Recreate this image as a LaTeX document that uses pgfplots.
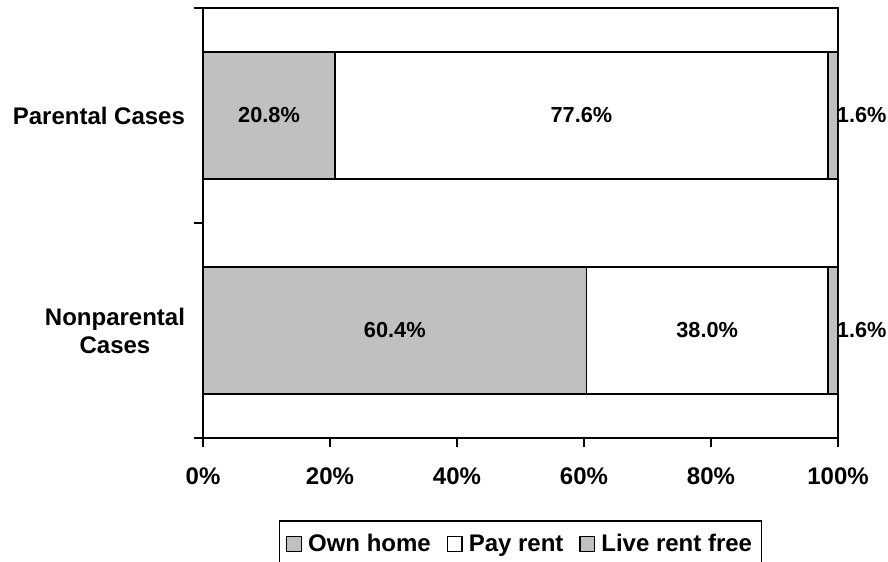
\documentclass[border=0pt]{standalone}
\usepackage{pgfplots}
\pgfplotsset{compat=1.18}
\usepackage{fontspec}
\setmainfont{Liberation Sans}
\definecolor{barGray}{HTML}{C0C0C0}

\pgfplotstableread{
y   own   rent  free
0   60.4  38.0  1.6
1   20.8  77.6  1.6
}\housing

\pgfplotstableread{
x     y   lbl
30.2  0   60.4\%
79.4  0   38.0\%
10.4  1   20.8\%
59.6  1   77.6\%
}\centerlabels

\pgfplotstableread{
x     y   lbl
100   0   1.6\%
100   1   1.6\%
}\edgelabels

\begin{document}
\begin{tikzpicture}
\pgfplotsset{
  commongeom/.style={
    at={(152.25pt,92.25pt)}, anchor=south west,
    scale only axis, width=476.25pt, height=322.5pt,
    xmin=0, xmax=100, ymin=-0.5, ymax=1.5,
  }
}
\begin{axis}[
  commongeom,
  xbar stacked, bar width=95.25pt,
  axis line style={line width=1pt, black},
  tick pos=left, tick align=outside,
  tick style={line width=1pt, black},
  major tick length=7pt,
  xtick={0,20,40,60,80,100},
  xticklabels={0\%,20\%,40\%,60\%,80\%,100\%},
  ytick={-0.5,0.5,1.5}, yticklabels={},
  extra y ticks={0,1},
  extra y tick labels={Nonparental\\Cases, Parental Cases},
  extra y tick style={major tick length=0pt, yticklabel style={align=center}},
  ticklabel style={font=\fontsize{18}{21}\selectfont\bfseries, black},
  xticklabel style={yshift=-12pt},
  yticklabel style={xshift=-10pt},
  legend style={
    at={(0.5,-0.1907)}, anchor=north,
    draw=black, line width=1.2pt,
    legend columns=-1,
    font=\fontsize{18}{21}\selectfont\bfseries,
    inner xsep=5pt, inner ysep=8pt,
    /tikz/every even column/.append style={column sep=10pt},
  },
  legend image code/.code={
    \draw[#1, line width=0.9pt] (0pt,-5.5pt) rectangle (11pt,5.5pt);
    \path (13.5pt,0pt);
  },
]
\addplot[fill=barGray, draw=black, line width=1pt] table[x=own, y=y] {\housing};
\addplot[fill=white, draw=black, line width=1pt] table[x=rent, y=y] {\housing};
\addplot[fill=barGray, draw=black, line width=1pt] table[x=free, y=y] {\housing};
\legend{Own home, Pay rent, Live rent free}
\end{axis}

\begin{axis}[
  commongeom, hide axis, clip=false,
]
\addplot[only marks, mark=none, point meta=explicit symbolic,
  nodes near coords,
  nodes near coords style={anchor=center, font=\fontsize{16.3}{19}\selectfont\bfseries, black}]
  table[x=x, y=y, meta=lbl] {\centerlabels};
\addplot[only marks, mark=none, point meta=explicit symbolic,
  nodes near coords,
  nodes near coords style={anchor=west, inner sep=0pt, xshift=-1pt, font=\fontsize{16.3}{19}\selectfont\bfseries, black}]
  table[x=x, y=y, meta=lbl] {\edgelabels};
\end{axis}

\pgfresetboundingbox
\path[use as bounding box] (0pt,0pt) rectangle (666pt,420.75pt);
\end{tikzpicture}
\end{document}
